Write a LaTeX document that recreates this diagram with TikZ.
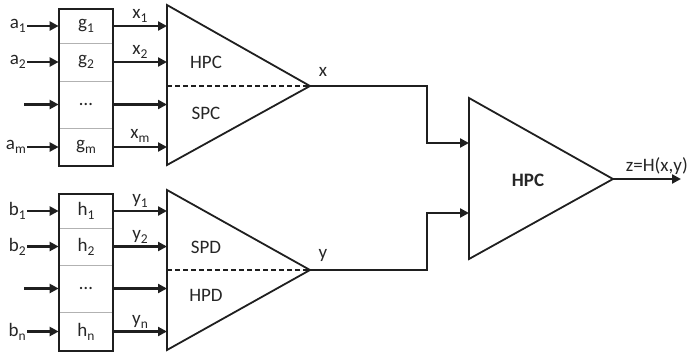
\documentclass[tikz,border=0pt]{standalone}
\usepackage{fontspec}
\setmainfont{Carlito}
\usetikzlibrary{arrows.meta}
\newcommand\sbs[1]{\raisebox{-0.45ex}{\fontsize{13.5}{14}\selectfont #1}}
\begin{document}
\begin{tikzpicture}[x=1pt,y=-1pt, color=black!88,
  lbl/.style={font=\fontsize{19}{21}\selectfont, inner sep=1pt, text=black!85},
  rowbox/.style={draw=gray!60, line width=0.7pt, minimum width=54pt, inner sep=0pt, font=\fontsize{19}{21}\selectfont, text=black!85},
  arr/.style={line width=2.4pt, -{Triangle[length=9pt,width=9pt]}},
  tri/.style={line width=1.8pt, line join=miter},
  sep/.style={line width=1.5pt, dash pattern=on 5pt off 3pt}]
\useasboundingbox (0,0) rectangle (689,354);
% ---------- top block ----------
\node[rowbox, minimum height=34pt] (g1) at (86,26) {g\sbs{1}};
\node[rowbox, minimum height=38pt] (g2) at (86,62) {g\sbs{2}};
\node[rowbox, minimum height=47pt] (g3) at (86,104.5) {…};
\node[rowbox, minimum height=38pt] (gm) at (86,147) {g\sbs{m}};
\draw[line width=2pt] (g1.north west) rectangle (gm.south east);
% top triangle
\coordinate (T1a) at (167,5);
\coordinate (T1b) at (167,165);
\coordinate (T1p) at (310,86);
\coordinate (T1m) at (167,86);
\draw[tri] (T1a) -- (T1p) -- (T1b) -- cycle;
\draw[sep] (T1m) -- (T1p);
\node[lbl] (hpc1) at (206,62) {HPC};
\node[lbl] (spc1) at (206,113) {SPC};
\node[lbl] (xl) at (323,72) {x};
% inputs
\node[lbl, anchor=east] (a1) at (27,26) {a\sbs{1}};
\node[lbl, anchor=east] (a2) at (27,62) {a\sbs{2}};
\coordinate (a3) at (24,104.5);
\node[lbl, anchor=east] (am) at (27,147) {a\sbs{m}};
\draw[arr] (a1.east) -- (g1.west);
\draw[arr] (a2.east) -- (g2.west);
\draw[arr] (a3) -- (g3.west);
\draw[arr] (am.east) -- (gm.west);
% outputs
\draw[arr] (g1.east) -- (g1.east -| T1a);
\draw[arr] (g2.east) -- (g2.east -| T1a);
\draw[arr] (g3.east) -- (g3.east -| T1a);
\draw[arr] (gm.east) -- (gm.east -| T1a);
\node[lbl, anchor=south] (x1) at (140,24) {x\sbs{1}};
\node[lbl, anchor=south] (x2) at (140,60) {x\sbs{2}};
\node[lbl, anchor=south] (xm) at (140,144) {x\sbs{m}};
% ---------- bottom block ----------
\node[rowbox, minimum height=34pt] (h1) at (86,211) {h\sbs{1}};
\node[rowbox, minimum height=37pt] (h2) at (86,246.5) {h\sbs{2}};
\node[rowbox, minimum height=47pt] (h3) at (86,288.5) {…};
\node[rowbox, minimum height=39pt] (hn) at (86,331.5) {h\sbs{n}};
\draw[line width=2pt] (h1.north west) rectangle (hn.south east);
% bottom triangle
\coordinate (T2a) at (167,190);
\coordinate (T2b) at (167,350);
\coordinate (T2p) at (310,270);
\coordinate (T2m) at (167,270);
\draw[tri] (T2a) -- (T2p) -- (T2b) -- cycle;
\draw[sep] (T2m) -- (T2p);
\node[lbl] (spd) at (206,247) {SPD};
\node[lbl] (hpd) at (206,295) {HPD};
\node[lbl] (yl) at (323,255) {y};
% inputs
\node[lbl, anchor=east] (b1) at (27,211) {b\sbs{1}};
\node[lbl, anchor=east] (b2) at (27,246.5) {b\sbs{2}};
\coordinate (b3) at (24,288.5);
\node[lbl, anchor=east] (bn) at (27,331.5) {b\sbs{n}};
\draw[arr] (b1.east) -- (h1.west);
\draw[arr] (b2.east) -- (h2.west);
\draw[arr] (b3) -- (h3.west);
\draw[arr] (bn.east) -- (hn.west);
% outputs
\draw[arr] (h1.east) -- (h1.east -| T2a);
\draw[arr] (h2.east) -- (h2.east -| T2a);
\draw[arr] (h3.east) -- (h3.east -| T2a);
\draw[arr] (hn.east) -- (hn.east -| T2a);
\node[lbl, anchor=south] (y1) at (140,209) {y\sbs{1}};
\node[lbl, anchor=south] (y2) at (140,244.5) {y\sbs{2}};
\node[lbl, anchor=south] (yn) at (140,329.5) {y\sbs{n}};
% ---------- final stage ----------
\coordinate (T3a) at (469,98);
\coordinate (T3b) at (469,259);
\coordinate (T3p) at (613,179);
\draw[tri] (T3a) -- (T3p) -- (T3b) -- cycle;
\node[lbl, font=\fontsize{19}{21}\selectfont\bfseries] (hpc3) at (528,180) {HPC};
\coordinate (j1) at (427,86);
\coordinate (in1) at (469,143);
\coordinate (j2) at (427,270);
\coordinate (in2) at (469,213);
\draw[arr] (T1p) -- (j1) |- (in1);
\draw[arr] (T2p) -- (j2) |- (in2);
\coordinate (zout) at (681,179);
\draw[arr] (T3p) -- (zout);
\node[lbl, anchor=south east] (zl) at (689,176) {z=H(x,y)};
\end{tikzpicture}
\end{document}
